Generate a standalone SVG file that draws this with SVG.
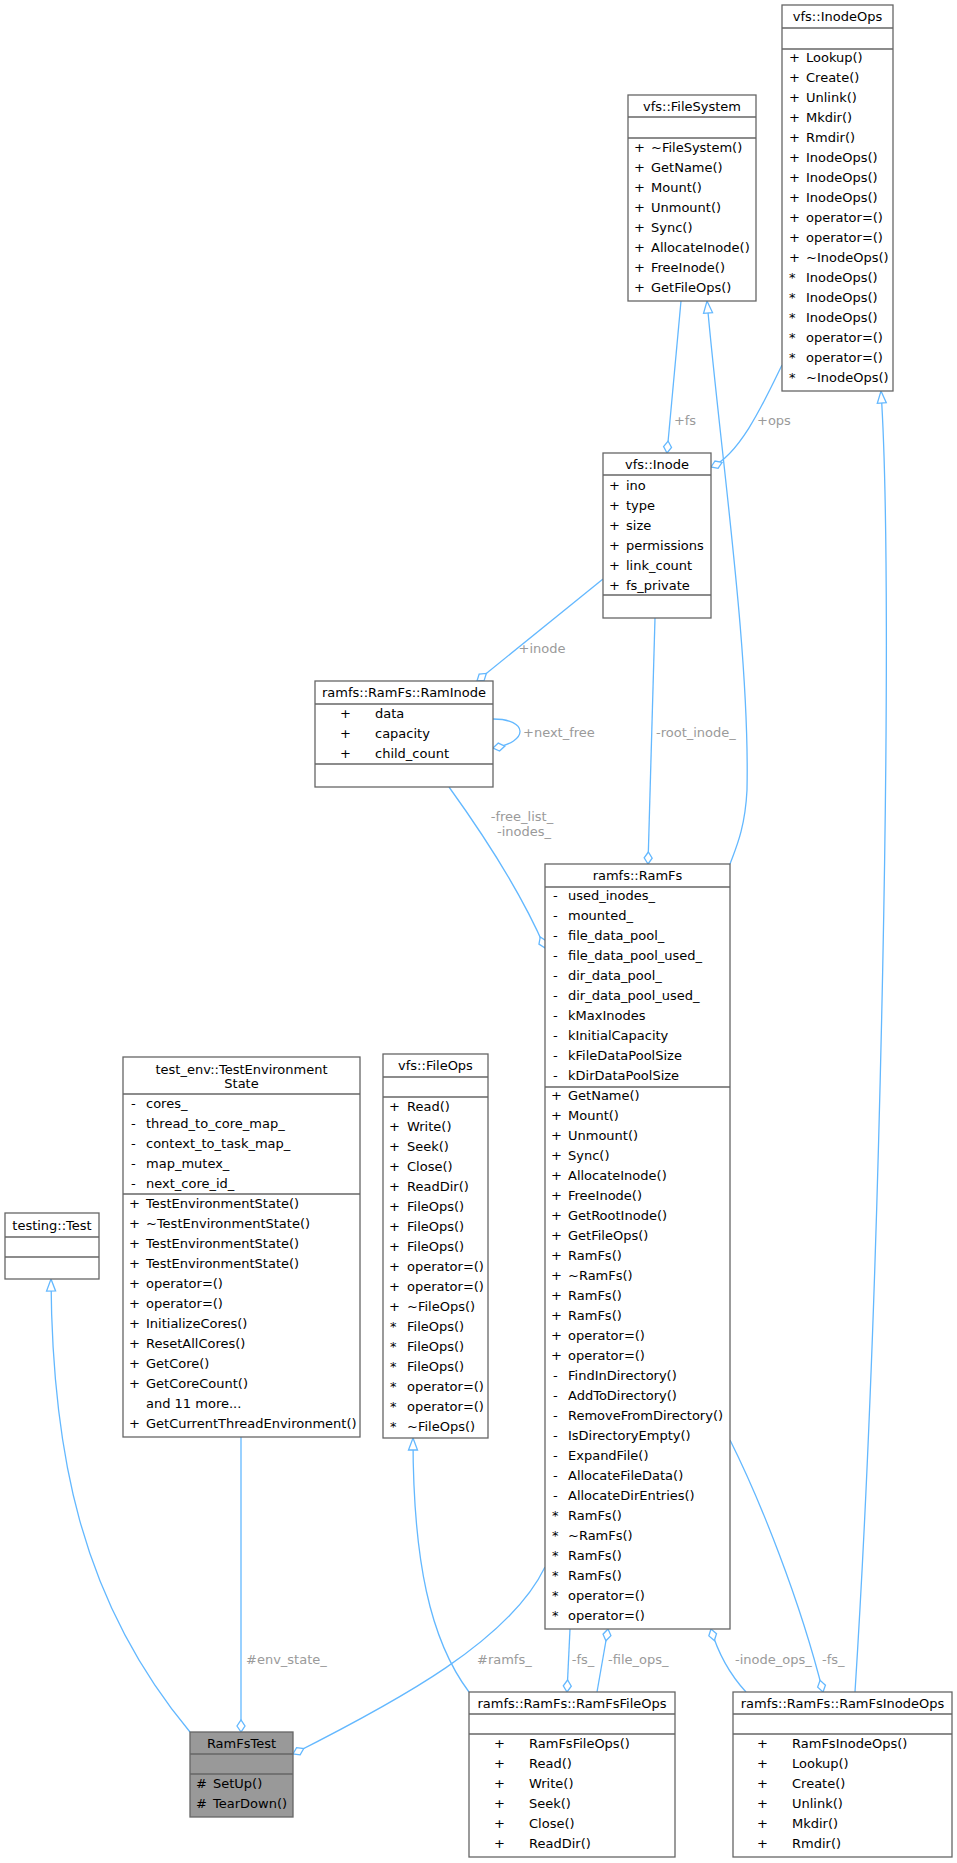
<svg xmlns="http://www.w3.org/2000/svg" width="957" height="1863" viewBox="0 0 957 1863">
<style>
text{font-family:"DejaVu Sans",sans-serif;font-size:13px;fill:#000}
.t{text-anchor:middle}
.box{fill:#fff;stroke:#666;stroke-width:1.3}
.sep{stroke:#666;stroke-width:1.3}
.e{fill:none;stroke:#63b8ff;stroke-width:1.3}
.lb{fill:#9a9a9a}
</style>
<defs>
<marker id="dia" markerUnits="userSpaceOnUse" markerWidth="16" markerHeight="12" refX="0" refY="5" orient="auto" overflow="visible"><path d="M0,5 L6,1 L12,5 L6,9 Z" fill="#fff" stroke="#63b8ff" stroke-width="1.3"/></marker>
<marker id="tri" markerUnits="userSpaceOnUse" markerWidth="16" markerHeight="12" refX="0" refY="5" orient="auto" overflow="visible"><path d="M0,5 L12,0.5 L12,9.5 Z" fill="#fff" stroke="#63b8ff" stroke-width="1.3"/></marker>
</defs>
<rect width="957" height="1863" fill="#fff"/>
<g id="edges">
<path class="e" marker-start="url(#tri)" d="M51,1279 C52,1450 80,1600 190,1732"/>
<path class="e" marker-start="url(#dia)" d="M241,1732 L241,1437"/>
<path class="e" marker-start="url(#dia)" d="M293,1754 C400,1700 510,1640 545,1567"/>
<path class="e" marker-start="url(#tri)" d="M413,1438 C413,1560 430,1640 469,1692"/>
<path class="e" marker-start="url(#dia)" d="M567,1692 L570,1629"/>
<path class="e" marker-start="url(#dia)" d="M608,1629 L597,1692"/>
<path class="e" marker-start="url(#dia)" d="M711,1629 C720,1660 735,1680 746,1692"/>
<path class="e" marker-start="url(#dia)" d="M823,1692 C800,1600 760,1500 730,1440"/>
<path class="e" marker-start="url(#tri)" d="M881,391 C895,600 880,1300 855,1692"/>
<path class="e" marker-start="url(#tri)" d="M707,301 C720,450 750,650 747,790 C745,830 735,850 730,864"/>
<path class="e" marker-start="url(#dia)" d="M667,453 L681,301"/>
<path class="e" marker-start="url(#dia)" d="M711,467 C740,455 765,400 782,365"/>
<path class="e" marker-start="url(#dia)" d="M477,681 L603,579"/>
<path class="e" marker-start="url(#dia)" d="M648,864 L655,618"/>
<path class="e" marker-start="url(#dia)" d="M493,748 C530,742 528,719 493,719"/>
<path class="e" marker-start="url(#dia)" d="M545,948 C520,890 480,830 449,787"/>
<text class="lb t" x="685" y="425">+fs</text>
<text class="lb" x="757" y="425">+ops</text>
<text class="lb t" x="542" y="653">+inode</text>
<text class="lb" x="523" y="737">+next_free</text>
<text class="lb" x="656" y="737">-root_inode_</text>
<text class="lb t" x="522" y="821">-free_list_</text>
<text class="lb t" x="524" y="836">-inodes_</text>
<text class="lb" x="246" y="1664">#env_state_</text>
<text class="lb" x="477" y="1664">#ramfs_</text>
<text class="lb t" x="583" y="1664">-fs_</text>
<text class="lb" x="608" y="1664">-file_ops_</text>
<text class="lb" x="735" y="1664">-inode_ops_</text>
<text class="lb" x="822" y="1664">-fs_</text>
</g>
<g id="InodeOps">
<rect class="box" x="782" y="5" width="111" height="386"/>
<line class="sep" x1="782" y1="28" x2="893" y2="28"/><line class="sep" x1="782" y1="49" x2="893" y2="49"/>
<text class="t" x="837.5" y="21">vfs::InodeOps</text>
<text x="789" y="61.5">+</text><text x="806" y="61.5">Lookup()</text>
<text x="789" y="81.5">+</text><text x="806" y="81.5">Create()</text>
<text x="789" y="101.5">+</text><text x="806" y="101.5">Unlink()</text>
<text x="789" y="121.5">+</text><text x="806" y="121.5">Mkdir()</text>
<text x="789" y="141.5">+</text><text x="806" y="141.5">Rmdir()</text>
<text x="789" y="161.5">+</text><text x="806" y="161.5">InodeOps()</text>
<text x="789" y="181.5">+</text><text x="806" y="181.5">InodeOps()</text>
<text x="789" y="201.5">+</text><text x="806" y="201.5">InodeOps()</text>
<text x="789" y="221.5">+</text><text x="806" y="221.5">operator=()</text>
<text x="789" y="241.5">+</text><text x="806" y="241.5">operator=()</text>
<text x="789" y="261.5">+</text><text x="806" y="261.5">~InodeOps()</text>
<text x="789" y="281.5">*</text><text x="806" y="281.5">InodeOps()</text>
<text x="789" y="301.5">*</text><text x="806" y="301.5">InodeOps()</text>
<text x="789" y="321.5">*</text><text x="806" y="321.5">InodeOps()</text>
<text x="789" y="341.5">*</text><text x="806" y="341.5">operator=()</text>
<text x="789" y="361.5">*</text><text x="806" y="361.5">operator=()</text>
<text x="789" y="381.5">*</text><text x="806" y="381.5">~InodeOps()</text>
</g>
<g id="FileSystem">
<rect class="box" x="628" y="95" width="128" height="206"/>
<line class="sep" x1="628" y1="117" x2="756" y2="117"/><line class="sep" x1="628" y1="138" x2="756" y2="138"/>
<text class="t" x="692" y="111">vfs::FileSystem</text>
<text x="634" y="151.5">+</text><text x="651" y="151.5">~FileSystem()</text>
<text x="634" y="171.5">+</text><text x="651" y="171.5">GetName()</text>
<text x="634" y="191.5">+</text><text x="651" y="191.5">Mount()</text>
<text x="634" y="211.5">+</text><text x="651" y="211.5">Unmount()</text>
<text x="634" y="231.5">+</text><text x="651" y="231.5">Sync()</text>
<text x="634" y="251.5">+</text><text x="651" y="251.5">AllocateInode()</text>
<text x="634" y="271.5">+</text><text x="651" y="271.5">FreeInode()</text>
<text x="634" y="291.5">+</text><text x="651" y="291.5">GetFileOps()</text>
</g>
<g id="Inode">
<rect class="box" x="603" y="453" width="108" height="165"/>
<line class="sep" x1="603" y1="475" x2="711" y2="475"/><line class="sep" x1="603" y1="595" x2="711" y2="595"/>
<text class="t" x="657" y="469">vfs::Inode</text>
<text x="609" y="489.5">+</text><text x="626" y="489.5">ino</text>
<text x="609" y="509.5">+</text><text x="626" y="509.5">type</text>
<text x="609" y="529.5">+</text><text x="626" y="529.5">size</text>
<text x="609" y="549.5">+</text><text x="626" y="549.5">permissions</text>
<text x="609" y="569.5">+</text><text x="626" y="569.5">link_count</text>
<text x="609" y="589.5">+</text><text x="626" y="589.5">fs_private</text>
</g>
<g id="RamInode">
<rect class="box" x="315" y="681" width="178" height="106"/>
<line class="sep" x1="315" y1="704" x2="493" y2="704"/><line class="sep" x1="315" y1="764" x2="493" y2="764"/>
<text class="t" x="404" y="697">ramfs::RamFs::RamInode</text>
<text x="340" y="717.5">+</text><text x="375" y="717.5">data</text>
<text x="340" y="737.5">+</text><text x="375" y="737.5">capacity</text>
<text x="340" y="757.5">+</text><text x="375" y="757.5">child_count</text>
</g>
<g id="RamFs">
<rect class="box" x="545" y="864" width="185" height="765"/>
<line class="sep" x1="545" y1="887" x2="730" y2="887"/><line class="sep" x1="545" y1="1087" x2="730" y2="1087"/>
<text class="t" x="637.5" y="880">ramfs::RamFs</text>
<text x="553" y="899.5">-</text><text x="568" y="899.5">used_inodes_</text>
<text x="553" y="919.5">-</text><text x="568" y="919.5">mounted_</text>
<text x="553" y="939.5">-</text><text x="568" y="939.5">file_data_pool_</text>
<text x="553" y="959.5">-</text><text x="568" y="959.5">file_data_pool_used_</text>
<text x="553" y="979.5">-</text><text x="568" y="979.5">dir_data_pool_</text>
<text x="553" y="999.5">-</text><text x="568" y="999.5">dir_data_pool_used_</text>
<text x="553" y="1019.5">-</text><text x="568" y="1019.5">kMaxInodes</text>
<text x="553" y="1039.5">-</text><text x="568" y="1039.5">kInitialCapacity</text>
<text x="553" y="1059.5">-</text><text x="568" y="1059.5">kFileDataPoolSize</text>
<text x="553" y="1079.5">-</text><text x="568" y="1079.5">kDirDataPoolSize</text>
<text x="551" y="1099.5">+</text><text x="568" y="1099.5">GetName()</text>
<text x="551" y="1119.5">+</text><text x="568" y="1119.5">Mount()</text>
<text x="551" y="1139.5">+</text><text x="568" y="1139.5">Unmount()</text>
<text x="551" y="1159.5">+</text><text x="568" y="1159.5">Sync()</text>
<text x="551" y="1179.5">+</text><text x="568" y="1179.5">AllocateInode()</text>
<text x="551" y="1199.5">+</text><text x="568" y="1199.5">FreeInode()</text>
<text x="551" y="1219.5">+</text><text x="568" y="1219.5">GetRootInode()</text>
<text x="551" y="1239.5">+</text><text x="568" y="1239.5">GetFileOps()</text>
<text x="551" y="1259.5">+</text><text x="568" y="1259.5">RamFs()</text>
<text x="551" y="1279.5">+</text><text x="568" y="1279.5">~RamFs()</text>
<text x="551" y="1299.5">+</text><text x="568" y="1299.5">RamFs()</text>
<text x="551" y="1319.5">+</text><text x="568" y="1319.5">RamFs()</text>
<text x="551" y="1339.5">+</text><text x="568" y="1339.5">operator=()</text>
<text x="551" y="1359.5">+</text><text x="568" y="1359.5">operator=()</text>
<text x="553" y="1379.5">-</text><text x="568" y="1379.5">FindInDirectory()</text>
<text x="553" y="1399.5">-</text><text x="568" y="1399.5">AddToDirectory()</text>
<text x="553" y="1419.5">-</text><text x="568" y="1419.5">RemoveFromDirectory()</text>
<text x="553" y="1439.5">-</text><text x="568" y="1439.5">IsDirectoryEmpty()</text>
<text x="553" y="1459.5">-</text><text x="568" y="1459.5">ExpandFile()</text>
<text x="553" y="1479.5">-</text><text x="568" y="1479.5">AllocateFileData()</text>
<text x="553" y="1499.5">-</text><text x="568" y="1499.5">AllocateDirEntries()</text>
<text x="552" y="1519.5">*</text><text x="568" y="1519.5">RamFs()</text>
<text x="552" y="1539.5">*</text><text x="568" y="1539.5">~RamFs()</text>
<text x="552" y="1559.5">*</text><text x="568" y="1559.5">RamFs()</text>
<text x="552" y="1579.5">*</text><text x="568" y="1579.5">RamFs()</text>
<text x="552" y="1599.5">*</text><text x="568" y="1599.5">operator=()</text>
<text x="552" y="1619.5">*</text><text x="568" y="1619.5">operator=()</text>
</g>
<g id="TestEnvironmentState">
<rect class="box" x="123" y="1057" width="237" height="380"/>
<line class="sep" x1="123" y1="1094" x2="360" y2="1094"/><line class="sep" x1="123" y1="1194" x2="360" y2="1194"/>
<text class="t" x="241.5" y="1073.5">test_env::TestEnvironment</text>
<text class="t" x="241.5" y="1088">State</text>
<text x="131" y="1107.5">-</text><text x="146" y="1107.5">cores_</text>
<text x="131" y="1127.5">-</text><text x="146" y="1127.5">thread_to_core_map_</text>
<text x="131" y="1147.5">-</text><text x="146" y="1147.5">context_to_task_map_</text>
<text x="131" y="1167.5">-</text><text x="146" y="1167.5">map_mutex_</text>
<text x="131" y="1187.5">-</text><text x="146" y="1187.5">next_core_id_</text>
<text x="129" y="1207.5">+</text><text x="146" y="1207.5">TestEnvironmentState()</text>
<text x="129" y="1227.5">+</text><text x="146" y="1227.5">~TestEnvironmentState()</text>
<text x="129" y="1247.5">+</text><text x="146" y="1247.5">TestEnvironmentState()</text>
<text x="129" y="1267.5">+</text><text x="146" y="1267.5">TestEnvironmentState()</text>
<text x="129" y="1287.5">+</text><text x="146" y="1287.5">operator=()</text>
<text x="129" y="1307.5">+</text><text x="146" y="1307.5">operator=()</text>
<text x="129" y="1327.5">+</text><text x="146" y="1327.5">InitializeCores()</text>
<text x="129" y="1347.5">+</text><text x="146" y="1347.5">ResetAllCores()</text>
<text x="129" y="1367.5">+</text><text x="146" y="1367.5">GetCore()</text>
<text x="129" y="1387.5">+</text><text x="146" y="1387.5">GetCoreCount()</text>
<text x="146" y="1407.5">and 11 more...</text>
<text x="129" y="1427.5">+</text><text x="146" y="1427.5">GetCurrentThreadEnvironment()</text>
</g>
<g id="FileOps">
<rect class="box" x="383" y="1054" width="105" height="384"/>
<line class="sep" x1="383" y1="1077" x2="488" y2="1077"/><line class="sep" x1="383" y1="1097" x2="488" y2="1097"/>
<text class="t" x="435.5" y="1070">vfs::FileOps</text>
<text x="389" y="1110.5">+</text><text x="407" y="1110.5">Read()</text>
<text x="389" y="1130.5">+</text><text x="407" y="1130.5">Write()</text>
<text x="389" y="1150.5">+</text><text x="407" y="1150.5">Seek()</text>
<text x="389" y="1170.5">+</text><text x="407" y="1170.5">Close()</text>
<text x="389" y="1190.5">+</text><text x="407" y="1190.5">ReadDir()</text>
<text x="389" y="1210.5">+</text><text x="407" y="1210.5">FileOps()</text>
<text x="389" y="1230.5">+</text><text x="407" y="1230.5">FileOps()</text>
<text x="389" y="1250.5">+</text><text x="407" y="1250.5">FileOps()</text>
<text x="389" y="1270.5">+</text><text x="407" y="1270.5">operator=()</text>
<text x="389" y="1290.5">+</text><text x="407" y="1290.5">operator=()</text>
<text x="389" y="1310.5">+</text><text x="407" y="1310.5">~FileOps()</text>
<text x="390" y="1330.5">*</text><text x="407" y="1330.5">FileOps()</text>
<text x="390" y="1350.5">*</text><text x="407" y="1350.5">FileOps()</text>
<text x="390" y="1370.5">*</text><text x="407" y="1370.5">FileOps()</text>
<text x="390" y="1390.5">*</text><text x="407" y="1390.5">operator=()</text>
<text x="390" y="1410.5">*</text><text x="407" y="1410.5">operator=()</text>
<text x="390" y="1430.5">*</text><text x="407" y="1430.5">~FileOps()</text>
</g>
<g id="TestingTest">
<rect class="box" x="5" y="1213" width="94" height="66"/>
<line class="sep" x1="5" y1="1237" x2="99" y2="1237"/><line class="sep" x1="5" y1="1257" x2="99" y2="1257"/>
<text class="t" x="52" y="1230">testing::Test</text>
</g>
<g id="RamFsTest">
<rect x="190" y="1732" width="103" height="85" fill="#999" stroke="#666" stroke-width="1.3"/>
<line class="sep" x1="190" y1="1754" x2="293" y2="1754"/><line class="sep" x1="190" y1="1774" x2="293" y2="1774"/>
<text class="t" x="241.5" y="1748">RamFsTest</text>
<text x="196" y="1787.5">#</text><text x="213" y="1787.5">SetUp()</text>
<text x="196" y="1807.5">#</text><text x="213" y="1807.5">TearDown()</text>
</g>
<g id="RamFsFileOps">
<rect class="box" x="469" y="1692" width="206" height="165"/>
<line class="sep" x1="469" y1="1714" x2="675" y2="1714"/><line class="sep" x1="469" y1="1734" x2="675" y2="1734"/>
<text class="t" x="572" y="1708">ramfs::RamFs::RamFsFileOps</text>
<text x="494" y="1747.5">+</text><text x="529" y="1747.5">RamFsFileOps()</text>
<text x="494" y="1767.5">+</text><text x="529" y="1767.5">Read()</text>
<text x="494" y="1787.5">+</text><text x="529" y="1787.5">Write()</text>
<text x="494" y="1807.5">+</text><text x="529" y="1807.5">Seek()</text>
<text x="494" y="1827.5">+</text><text x="529" y="1827.5">Close()</text>
<text x="494" y="1847.5">+</text><text x="529" y="1847.5">ReadDir()</text>
</g>
<g id="RamFsInodeOps">
<rect class="box" x="733" y="1692" width="219" height="165"/>
<line class="sep" x1="733" y1="1714" x2="952" y2="1714"/><line class="sep" x1="733" y1="1734" x2="952" y2="1734"/>
<text class="t" x="842.5" y="1708">ramfs::RamFs::RamFsInodeOps</text>
<text x="757" y="1747.5">+</text><text x="792" y="1747.5">RamFsInodeOps()</text>
<text x="757" y="1767.5">+</text><text x="792" y="1767.5">Lookup()</text>
<text x="757" y="1787.5">+</text><text x="792" y="1787.5">Create()</text>
<text x="757" y="1807.5">+</text><text x="792" y="1807.5">Unlink()</text>
<text x="757" y="1827.5">+</text><text x="792" y="1827.5">Mkdir()</text>
<text x="757" y="1847.5">+</text><text x="792" y="1847.5">Rmdir()</text>
</g>
</svg>
